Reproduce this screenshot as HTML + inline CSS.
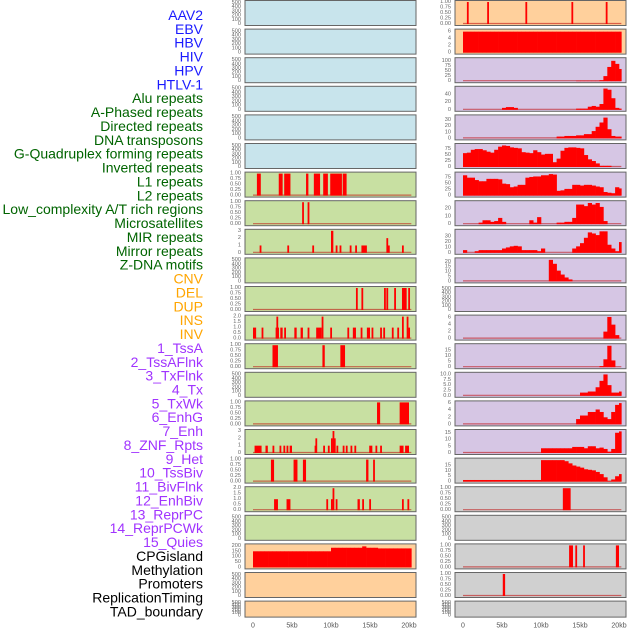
<!DOCTYPE html>
<html><head><meta charset="utf-8"><style>
html,body{margin:0;padding:0;background:#fff;}
svg{display:block;font-family:"Liberation Sans",sans-serif;}
</style></head><body>
<svg id="chart" width="630" height="630" viewBox="0 0 630 630" xmlns="http://www.w3.org/2000/svg">
<g id="labels"></g>
<g id="panels"></g>
<g id="xaxis"></g>
</svg>
<script>
// ---- data ----
const trackLabels = ["AAV2","EBV","HBV","HIV","HPV","HTLV-1","Alu repeats","A-Phased repeats","Directed repeats","DNA transposons","G-Quadruplex forming repeats","Inverted repeats","L1 repeats","L2 repeats","Low_complexity A/T rich regions","Microsatellites","MIR repeats","Mirror repeats","Z-DNA motifs","CNV","DEL","DUP","INS","INV","1_TssA","2_TssAFlnk","3_TxFlnk","4_Tx","5_TxWk","6_EnhG","7_Enh","8_ZNF_Rpts","9_Het","10_TssBiv","11_BivFlnk","12_EnhBiv","13_ReprPC","14_ReprPCWk","15_Quies","CPGisland","Methylation","Promoters","ReplicationTiming","TAD_boundary"];
const labelGroups = ["v","v","v","v","v","v","r","r","r","r","r","r","r","r","r","r","r","r","r","s","s","s","s","s","c","c","c","c","c","c","c","c","c","c","c","c","c","c","c","k","k","k","k","k"];
const xTickValues = [0,5,10,15,20];
const xTickLabels = ["0","5kb","10kb","15kb","20kb"];

// left column spikes [startKb, endKb, height]
const leftL1 = [[0.5,1.0,1],[3.3,3.8,1],[4.0,4.8,1],[6.8,7.1,1],[7.8,8.6,1],[9.0,9.6,1],[9.9,11.4,1],[11.5,12.0,1]];
const leftL2 = [[6.3,6.5,1],[7.0,7.2,1]];
const leftLowCx = [[0.85,1,1],[4.4,4.6,1],[7.6,7.8,1],[10.0,10.3,3],[10.6,10.8,1],[11.1,11.3,1],[12.4,12.6,1],[13.1,13.3,1],[13.9,14.6,1],[17.1,17.3,2],[17.3,17.4,1],[19.1,19.3,1]];
const leftMIR = [[13.2,13.4,1],[13.9,14.1,1],[16.8,17.0,1],[17.1,17.3,1],[18.1,18.3,1],[19.1,19.7,1],[19.9,20.1,1]];
const leftMirror = [[0,0.4,1],[1.1,1.3,1],[2.9,3.0,1],[3.0,3.1,2],[3.1,3.2,1],[3.5,3.8,1],[4.0,4.2,1],[5.3,5.6,1],[6.1,6.4,1],[7.0,7.2,1],[8.1,8.8,1],[8.8,9.0,2],[9.9,10.1,1],[12.1,12.3,1],[12.8,13.2,1],[13.8,14.0,1],[14.6,15.0,1],[15.2,15.4,1],[16.3,16.5,1],[16.7,16.9,1],[17.8,18.0,1],[18.5,18.7,1],[19.1,19.3,2],[19.7,19.9,2],[19.9,20.0,1]];
const leftDEL = [[2.5,3.2,1],[8.9,9.2,1],[11.2,11.8,1]];
const leftINS = [[15.9,16.3,1],[18.8,20.0,1]];
const leftINV = [[0.2,1.1,1],[1.6,1.9,1],[2.5,2.7,1],[3.4,3.6,1],[3.9,4.1,1],[4.3,4.5,1],[4.7,5.0,1],[7.9,8.0,1],[8.0,8.2,2],[9.0,9.2,1],[9.6,9.8,1],[10.0,10.2,2],[10.2,10.3,3],[10.3,10.6,2],[10.7,10.8,1],[11.5,11.7,1],[11.9,12.1,1],[12.5,12.7,1],[13.0,13.2,1],[14.9,15.3,1],[15.7,15.9,1],[16.3,16.5,1],[18.8,19.3,1],[19.5,20.0,1]];
const leftTssA = [[2.3,2.7,1],[5.2,5.7,1],[6.4,6.8,1],[14.5,14.8,1],[15.4,15.6,1]];
const leftTssAFlnk = [[2.7,3.2,1],[4.3,4.8,1],[9.4,9.6,1],[10.0,10.2,1],[10.2,10.4,2],[10.6,10.8,1],[13.4,13.7,1],[14.0,14.2,1],[14.9,15.1,1],[19.1,19.3,1],[19.8,20.0,1]];
const cpgDensity = [150,150,150,150,150,150,150,150,150,150,150,150,150,150,150,150,150,150,150,150,183,183,183,183,183,183,183,183,196,183,183,183,177,177,177,177,177,177,177,177,177];

// right column spikes / densities (0.5 kb bins)
const rightAAV2 = [[0.5,0.7,1],[3.1,3.3,1],[8.0,8.2,1],[13.9,14.1,1],[18.3,18.5,1]];
const ebvDensity = [6,6,6,6,6,6,6,6,6,6,6,6,6,6,6,6,6,6,6,6,6,6,6,6,6,6,6,6,6,6,6,6,6,6,6,6,6,6,6,6,6];
const hivDensity = [0,0,0,0,0,0,0,0,0,0,0,0,0,0,0,0,0,0,0,0,0,0,0,0,0,0,0,0,0,2,2,2,2,2,2,5,25,70,100,85,60];
const hpvDensity = [0,0,0,0,0,0,0,0,0,0,5,7,7,5,0,0,0,0,0,0,0,0,0,0,0,0,0,0,0,3,3,3,8,10,8,15,55,52,30,5,3];
const htlvDensity = [0,0,0,0,0,0,0,0,0,0,0,0,0,0,0,0,0,0,0,0,0,0,0,0,3,3,4,4,4,5,5,7,7,12,19,26,34,15,4,3,3];
const aluDensity = [58,60,72,75,75,70,64,60,72,85,90,88,82,80,78,62,60,58,70,62,52,55,55,20,35,68,80,82,82,80,78,50,32,25,15,5,5,5,0,0,0];
const aphDensity = [85,75,75,65,60,60,70,70,70,68,50,48,35,38,45,45,75,78,80,80,85,85,90,88,20,22,28,28,45,45,42,45,45,42,38,35,15,12,10,35,30];
const dirDensity = [0,0,0,0,2,5,5,3,4,8,3,0,0,0,0,0,0,5,2,9,0,0,0,0,2,2,3,3,8,25,25,23,27,25,27,22,4,0,0,0,0];
const dnaDensity = [5,0,0,3,5,5,5,5,5,5,8,10,12,13,12,5,5,5,5,3,8,0,0,0,0,0,0,0,8,12,18,28,38,36,33,40,40,15,8,3,20];
const gquadDensity = [0,0,0,0,0,0,0,0,0,0,0,0,0,0,0,0,0,0,0,0,0,0,22,18,11,7,4,2,0,0,0,0,0,0,0,0,0,0,0,0,0];
const l2Density = [0,0,0,0,0,0,0,0,0,0,0,0,0,0,0,0,0,0,0,0,0,0,0,0,0,0,0,0,0,0,0,0,0,0,0,0,2,6.2,4,1,0];
const lowDensity = [0,0,0,0,0,0,0,0,0,0,0,0,0,0,0,0,0,0,0,0,0,0,0,0,0,0,0,0,0,0,0,0,0,0,0,1,7,19,6,0,0];
const microDensity = [0,0,0,0,0,0,0,0,0,0,0,0,0,0,0,0,0,0,0,0,0,0,0,0,0,0,0,0,0,0,1.5,1.5,2,2,4,7,10,5,1.5,1.5,2];
const mirDensity = [0,0,0,0,0,0,0,0,0,0,0,0,0,0,0,0,0,0,0,0,0,0,0,0,0,0,0,0,0,1.5,2.5,2.5,3.5,3.5,4.2,3.5,2,1.5,3.5,5.5,6];
const mirrorDensity = [0,0,0,0,0,0,0,0,0,0,0,0,0,0,0,0,0,0,0,0,3.5,3.5,3.5,3.5,3.5,3.5,3.5,3.5,4.5,4.5,4.5,3.5,5,5,3.5,4,3,1,3,15,16];
const zdnaDensity = [1.5,1.5,1.5,1.5,1.5,1.5,1.5,1.5,1.5,1.5,1.5,1.5,1.5,1.5,1.5,1.5,1.5,1.5,1.5,1.5,20,20,20,20,20,20,19,17,15,14,13,11.5,11,10.5,9,7,4,0.5,2,5,7];
const rightCNV = [[12.8,13.8,1]];
const rightDEL = [[13.6,14.1,1],[14.4,14.6,1],[15.4,15.6,1],[19.6,20.0,1]];
const rightDUP = [[5.1,5.4,1]];

// ---- panel specs ----
const T_EMPTY = {t:[0,100,200,300,400,500], l:["0","100","200","300","400","500"], m:520};
const T_FRAC = {t:[0,0.25,0.5,0.75,1], l:["0.00","0.25","0.50","0.75","1.00"], m:1};
const BLUE="#c8e4ec", GREEN="#c8e0a2", PEACH="#ffd09c", LAV="#d6c6e4", GRAY="#d0d0d0";
const leftPanels = [];
for (let i=0;i<6;i++) leftPanels.push({bg:BLUE, ...T_EMPTY});
leftPanels.push({bg:GREEN, ...T_FRAC, spikes:leftL1});
leftPanels.push({bg:GREEN, ...T_FRAC, spikes:leftL2});
leftPanels.push({bg:GREEN, t:[0,1,2,3], l:["0","1","2","3"], m:3, spikes:leftLowCx});
leftPanels.push({bg:GREEN, ...T_EMPTY});
leftPanels.push({bg:GREEN, ...T_FRAC, spikes:leftMIR});
leftPanels.push({bg:GREEN, t:[0,0.5,1,1.5,2], l:["0.0","0.5","1.0","1.5","2.0"], m:2, spikes:leftMirror});
leftPanels.push({bg:GREEN, ...T_FRAC, spikes:leftDEL});
leftPanels.push({bg:GREEN, ...T_EMPTY});
leftPanels.push({bg:GREEN, ...T_FRAC, spikes:leftINS});
leftPanels.push({bg:GREEN, t:[0,1,2,3], l:["0","1","2","3"], m:3, spikes:leftINV});
leftPanels.push({bg:GREEN, ...T_FRAC, spikes:leftTssA});
leftPanels.push({bg:GREEN, t:[0,0.5,1,1.5,2], l:["0.0","0.5","1.0","1.5","2.0"], m:2, spikes:leftTssAFlnk});
leftPanels.push({bg:GREEN, ...T_EMPTY});
leftPanels.push({bg:PEACH, t:[0,50,100,150,200], l:["0","50","100","150","200"], m:205, area:cpgDensity});
leftPanels.push({bg:PEACH, ...T_EMPTY});
leftPanels.push({bg:PEACH, ...T_EMPTY});

const rightPanels = [
 {bg:PEACH, ...T_FRAC, spikes:rightAAV2},
 {bg:PEACH, t:[0,2,4,6], l:["0","2","4","6"], m:6.3, area:ebvDensity},
 {bg:LAV, t:[0,25,50,75,100], l:["0","25","50","75","100"], m:108, area:hivDensity},
 {bg:LAV, t:[0,20,40], l:["0","20","40"], m:57, area:hpvDensity},
 {bg:LAV, t:[0,10,20,30], l:["0","10","20","30"], m:36, area:htlvDensity},
 {bg:LAV, t:[0,25,50,75], l:["0","25","50","75"], m:92, area:aluDensity},
 {bg:LAV, t:[0,25,50,75], l:["0","25","50","75"], m:92, area:aphDensity},
 {bg:LAV, t:[0,10,20], l:["0","10","20"], m:28, area:dirDensity},
 {bg:LAV, t:[0,10,20,30], l:["0","10","20","30"], m:41, area:dnaDensity},
 {bg:LAV, t:[0,5,10,15,20], l:["0","5","10","15","20"], m:22.5, area:gquadDensity},
 {bg:LAV, ...T_EMPTY},
 {bg:LAV, t:[0,2,4,6], l:["0","2","4","6"], m:6.3, area:l2Density},
 {bg:LAV, t:[0,5,10,15], l:["0","5","10","15"], m:19.5, area:lowDensity},
 {bg:LAV, t:[0,2.5,5,7.5,10], l:["0.0","2.5","5.0","7.5","10.0"], m:10.3, area:microDensity},
 {bg:LAV, t:[0,2,4,6], l:["0","2","4","6"], m:6.2, area:mirDensity},
 {bg:LAV, t:[0,5,10,15], l:["0","5","10","15"], m:16.3, area:mirrorDensity},
 {bg:GRAY, t:[0,5,10,15], l:["0","5","10","15"], m:20.5, area:zdnaDensity},
 {bg:GRAY, ...T_FRAC, spikes:rightCNV},
 {bg:GRAY, ...T_EMPTY},
 {bg:GRAY, ...T_FRAC, spikes:rightDEL},
 {bg:GRAY, ...T_FRAC, spikes:rightDUP},
 {bg:GRAY, ...T_EMPTY}
];

// ---- drawing ----
const NS="http://www.w3.org/2000/svg";
function mk(tag, attrs, parent){const e=document.createElementNS(NS,tag);for(const k in attrs)e.setAttribute(k,attrs[k]);parent.appendChild(e);return e;}
const labelColors={v:"#1a1aff",r:"#006400",s:"#ffa500",c:"#a033ff",k:"#000000"};
const gLab=document.getElementById('labels');
trackLabels.forEach((t,i)=>{
  const el=mk('text',{x:203,y:15+i*13.87,'text-anchor':'end','dominant-baseline':'central','font-size':'14',fill:labelColors[labelGroups[i]]},gLab);
  
  
  el.textContent=t;
});
const gP=document.getElementById('panels');
const PW=171;
function rowTop(i){return 0.5+28.6*i;}
function rowH(i){return i===21?16:25;}
function drawPanel(p, px, i){
  const top=rowTop(i), h=rowH(i);
  const g=mk('g',{},gP);
  
  
  const bg=mk('rect',{x:px,y:top,width:PW,height:h,fill:p.bg,stroke:'#666','stroke-width':1},g);
  
  
  const x0=px+8, kbw=7.8;
  const xs=kb=>x0+kb*kbw;
  const ys=v=>top+h-1.5-(v/p.m)*(h-3);
  p.t.forEach((tv,k)=>{
    const tx=mk('text',{x:px-4,y:ys(tv),'text-anchor':'end','dominant-baseline':'central','font-size':'5.6',fill:'#666'},g);
    
    
    tx.textContent=p.l[k];
  });
  if(p.area||p.spikes){
    const bl=mk('line',{x1:xs(0),x2:xs(20.3),y1:ys(0)-0.5,y2:ys(0)-0.5,stroke:'rgba(190,0,0,0.55)','stroke-width':1.2},g);
    
    
  }
  if(p.area){
    p.area.forEach((v,k)=>{
      if(v<=0)return;
      const s=k*0.5, e=Math.min(s+0.5,20.3);
      const r=mk('rect',{x:xs(s),y:ys(v),width:xs(e)-xs(s)+0.3,height:ys(0)-ys(v),fill:'#ff0000'},g);
      
      
    });
  }
  if(p.spikes){
    p.spikes.forEach(sp=>{
      const w=Math.max(xs(sp[1])-xs(sp[0]),1.8);
      const r=mk('rect',{x:xs(sp[0]),y:ys(sp[2]),width:w,height:ys(0)-ys(sp[2]),fill:'#ff0000'},g);
      
      
    });
  }
}
leftPanels.forEach((p,i)=>drawPanel(p,245,i));
rightPanels.forEach((p,i)=>drawPanel(p,455,i));
const gX=document.getElementById('xaxis');
[245,455].forEach(px=>{
  xTickValues.forEach((v,k)=>{
    const t=mk('text',{x:px+8+v*7.8,y:626,'text-anchor':'middle','dominant-baseline':'central','font-size':'7',fill:'#555'},gX);
    
    
    t.textContent=xTickLabels[k];
  });
});
</script>
</body></html>
